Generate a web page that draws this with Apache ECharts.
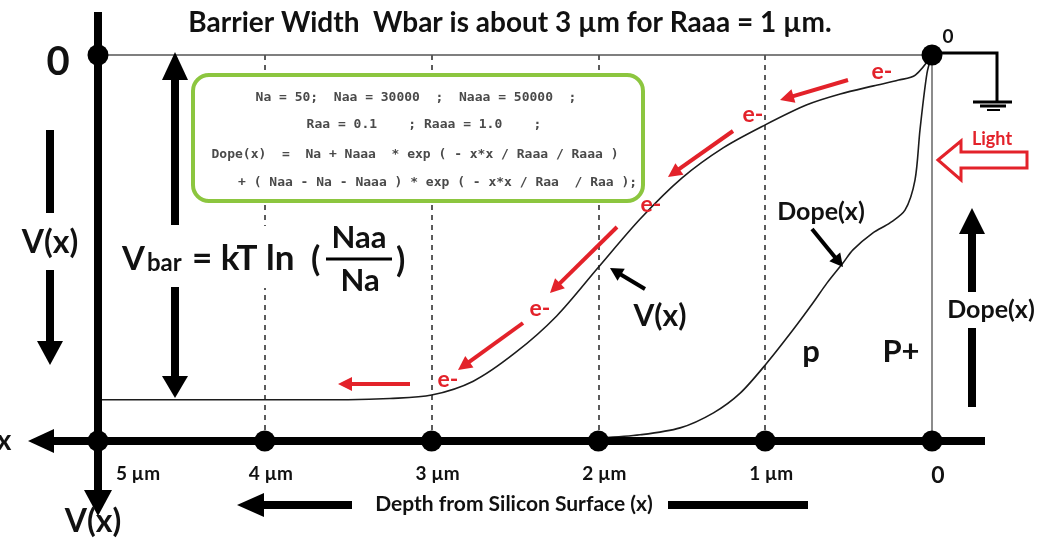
<!DOCTYPE html>
<html><head><meta charset="utf-8">
<script src="https://cdn.jsdelivr.net/npm/echarts@6/dist/echarts.min.js"></script>
<style>html,body{margin:0;padding:0;background:#fff}#c{width:1040px;height:538px}</style>
</head><body><div id="c"></div><script>
// ---- data ----
const depthTicks = [0, 1, 2, 3, 4, 5];
const tickLabels = ['0', '1 µm', '2 µm', '3 µm', '4 µm', '5 µm'];
const vDepth = [0, 0.1, 0.2, 0.35, 0.55, 0.75, 1.0, 1.25, 1.5, 1.75, 2.0, 2.25, 2.5, 2.75, 3.0, 3.25, 3.5, 4.0, 4.5, 5.0];
const vValue = [0, 5.2, 6.5, 8.0, 10.1, 12.9, 18.1, 24.0, 31.9, 42.5, 55.0, 67.6, 77.2, 84.5, 88.1, 89.0, 89.3, 89.3, 89.3, 89.3];
const dopeDepth = [0, 0.03, 0.072, 0.102, 0.162, 0.252, 0.354, 0.474, 0.534, 0.63, 0.713, 0.833, 0.99, 1.15, 1.31, 1.51, 1.75, 1.99];
const dopeValue = [0, 4.7, 19.4, 32.4, 40.2, 43.5, 46.1, 50.5, 53.9, 59.1, 64.2, 71.2, 79.8, 87.6, 92.7, 96.6, 98.4, 99.2];
const dashedDepths = [1, 2, 3, 4];
const dotPoints = [[0, 0], [5, 0], [0, 100], [1, 100], [2, 100], [3, 100], [4, 100], [5, 100]];
const boxLines = [
  'Na = 50;  Naa = 30000  ;  Naaa = 50000  ;',
  'Raa = 0.1    ; Raaa = 1.0    ;',
  'Dope(x)  =  Na + Naaa  * exp ( - x*x / Raaa / Raaa )',
  '+ ( Naa - Na - Naaa ) * exp ( - x*x / Raa  / Raa );'
];
const titleText = 'Barrier Width  Wbar is about 3 µm for Raaa = 1 µm.';

const FONT = 'Lato, "Open Sans", sans-serif';
const RED = '#e3222a';
const chart = echarts.init(document.getElementById('c'), null, {renderer: 'canvas'});

const option = {
  animation: false,
  backgroundColor: '#fff',
  grid: {left: 98, right: 108, top: 55, bottom: 97},
  xAxis: {
    type: 'value', inverse: true, min: 0, max: 5, interval: 1,
    axisLine: {show: false}, axisTick: {show: false}, splitLine: {show: false},
    axisLabel: {
      margin: 23,
      formatter: function (v) {
        const i = depthTicks.indexOf(v);
        const lab = i >= 0 ? tickLabels[i] : '';
        if (v === 0) return '{z|' + lab + '}';
        if (v === 5) return '{f|' + lab + '}';
        return '{t|' + lab + '}';
      },
      rich: {
        t: {fontFamily: FONT, fontSize: 19, fontWeight: 'bold', color: '#111', padding: [0, 0, 0, 12]},
        f: {fontFamily: FONT, fontSize: 19, fontWeight: 'bold', color: '#111', padding: [0, 0, 0, 80]},
        z: {fontFamily: FONT, fontSize: 23, fontWeight: 'bold', color: '#111', padding: [0, 0, 0, 12]}
      }
    }
  },
  yAxis: {type: 'value', inverse: true, min: 0, max: 100, show: false},
  series: [
    {
      name: 'V(x)', type: 'line', smooth: 0.3, symbol: 'none', z: 5,
      lineStyle: {color: '#1c1c1c', width: 1.6},
      data: vDepth.map((d, i) => [d, vValue[i]]),
      markLine: {
        silent: true, symbol: 'none', label: {show: false},
        data: dashedDepths.map(d => ({xAxis: d, lineStyle: {type: [5, 5], color: '#333', width: 1.6}}))
          .concat([{xAxis: 0, lineStyle: {type: 'solid', color: '#666', width: 1.5}},
                   {yAxis: 0, lineStyle: {type: 'solid', color: '#555', width: 1.5}}])
      }
    },
    {
      name: 'Dope(x)', type: 'line', smooth: 0.3, symbol: 'none', z: 5,
      lineStyle: {color: '#1c1c1c', width: 1.6},
      data: dopeDepth.map((d, i) => [d, dopeValue[i]])
    },
    {
      type: 'scatter', symbolSize: 21, z: 40, clip: false,
      itemStyle: {color: '#000', opacity: 1},
      emphasis: {disabled: true},
      data: dotPoints
    }
  ]
};
chart.setOption(option);

const pTop0 = chart.convertToPixel({gridIndex: 0}, [0, 0]);
const pBot5 = chart.convertToPixel({gridIndex: 0}, [5, 100]);
const gx0 = pTop0[0], gyTop = pTop0[1], gx5 = pBot5[0], gyBot = pBot5[1];

function ln(x1, y1, x2, y2, w, color, z) {
  return {type: 'line', z: z || 30, shape: {x1, y1, x2, y2}, style: {stroke: color, lineWidth: w}};
}
function poly(points, fill, z, stroke, lw) {
  return {type: 'polygon', z: z || 30, shape: {points}, style: {fill, stroke: stroke || null, lineWidth: lw || 0}};
}
function arrow(x1, y1, x2, y2, w, hl, hw, color, z) {
  const dx = x2 - x1, dy = y2 - y1, L = Math.sqrt(dx * dx + dy * dy);
  const ux = dx / L, uy = dy / L, px = -uy, py = ux;
  const bx = x2 - ux * hl, by = y2 - uy * hl;
  return [ln(x1, y1, bx + ux * 1, by + uy * 1, w, color, z),
    poly([[x2, y2], [bx + px * hw, by + py * hw], [bx - px * hw, by - py * hw]], color, z)];
}
function txt(s, x, y, size, opts) {
  opts = opts || {};
  return {type: 'text', z: opts.z || 35, x, y, style: {
    text: s, fill: opts.color || '#111', fontSize: size, fontFamily: opts.family || FONT,
    fontWeight: opts.weight || 'bold', align: opts.align || 'center', verticalAlign: 'middle'
  }};
}

let g = [];
// title
g.push(txt(titleText, 510, 23, 28));
// thick axes
g.push(ln(gx5, 12, gx5, 492, 8, '#000', 30));
g.push(poly([[gx5 - 14, 490], [gx5 + 14, 490], [gx5, 516]], '#000', 30));
g.push(ln(52, gyBot, 985, gyBot, 8, '#000', 30));
g.push(poly([[28, gyBot], [54, gyBot - 12], [54, gyBot + 12]], '#000', 30));
g.push(txt('x', 4, gyBot, 28));
g.push(txt('V(x)', 93, 522, 32));
g.push(txt('0', 58, 62, 40));
g.push(txt('0', 948, 37, 19));
// ground
g.push({type: 'polyline', z: 30, shape: {points: [[gx0, gyTop - 2], [997, gyTop - 2], [997, 102]]}, style: {stroke: '#000', lineWidth: 3, fill: null}});
g.push(ln(973, 102, 1012, 102, 3, '#000'));
g.push(ln(980, 106, 1006, 106, 3, '#000'));
g.push(ln(987, 110, 1000, 110, 2, '#000'));
// Depth label and arrows
g.push(txt('Depth from Silicon Surface (x)', 514, 504, 21));
g = g.concat(arrow(352, 505, 237, 505, 8, 27, 12, '#000'));
g.push(ln(668, 505, 808, 505, 8, '#000'));
// left V(x) arrow
g.push(txt('V(x)', 50, 243, 32));
g.push(ln(50, 130, 50, 213, 8, '#000'));
g = g.concat(arrow(50, 270, 50, 365, 8, 24, 13, '#000'));
// Vbar double arrow
g = g.concat(arrow(175, 225, 175, 52, 8, 28, 13, '#000'));
g = g.concat(arrow(175, 287, 175, 398, 8, 22, 13, '#000'));
// formula
g.push({type: 'rect', z: 15, shape: {x: 118, y: 226, width: 292, height: 62}, style: {fill: '#fff'}});
g.push(txt('V', 122, 259, 33, {align: 'left'}));
g.push(txt('bar', 147, 263, 24, {align: 'left'}));
g.push(txt('= kT ln', 192, 259, 35, {align: 'left'}));
g.push(txt('(', 311, 260, 34, {align: 'left'}));
g.push(txt('Naa', 359, 238, 31));
g.push(ln(326, 259, 392, 259, 3, '#000'));
g.push(txt('Na', 360, 281, 31));
g.push(txt(')', 396, 261, 34, {align: 'left'}));
// green box
g.push({type: 'rect', z: 20, shape: {x: 193, y: 75, width: 450, height: 126, r: 16}, style: {fill: '#fff', stroke: '#8cc63f', lineWidth: 4}});
const boxY = [98, 125, 155, 183];
const boxX = [416, 424, 415, 238];
boxLines.forEach((s, i) => g.push(txt(s, boxX[i], boxY[i], 13, {family: '"DejaVu Sans Mono", monospace', weight: 'bold', color: '#4a4a4a', align: i === 3 ? 'left' : 'center', z: 21})));
// red electron arrows
g = g.concat(arrow(848, 80, 780, 100, 4, 14, 7, RED));
g = g.concat(arrow(733, 131, 668, 177, 4, 14, 7, RED));
g = g.concat(arrow(617, 227, 550, 293, 4, 14, 7, RED));
g = g.concat(arrow(523, 323, 458, 370, 4, 14, 7, RED));
g = g.concat(arrow(410, 384, 338, 384, 4, 14, 7, RED));
[[882, 72], [753, 115], [651, 205], [540, 309], [448, 380]].forEach(p => g.push(txt('e-', p[0], p[1], 23, {color: RED})));
// pointer labels
g.push(txt('V(x)', 660, 316, 30));
g = g.concat(arrow(645, 289, 610, 268, 4, 13, 7, '#000'));
g.push(txt('Dope(x)', 821, 212, 25));
g = g.concat(arrow(812, 229, 843, 267, 4, 13, 7, '#000'));
g.push(txt('p', 811, 352, 31));
g.push(txt('P+', 901, 352, 31));
// Light arrow
g.push(poly([[938, 160], [961, 141], [961, 152], [1027, 152], [1027, 168], [961, 168], [961, 180]], '#fff', 30, RED, 3));
g.push(txt('Light', 992, 139, 18, {color: RED, weight: 'bold'}));
// right Dope(x) arrow
g = g.concat(arrow(972, 292, 972, 208, 8, 26, 13, '#000'));
g.push(txt('Dope(x)', 991, 310, 25));
g.push(ln(972, 328, 972, 407, 8, '#000'));

chart.setOption({graphic: {elements: g}});
</script></body></html>
